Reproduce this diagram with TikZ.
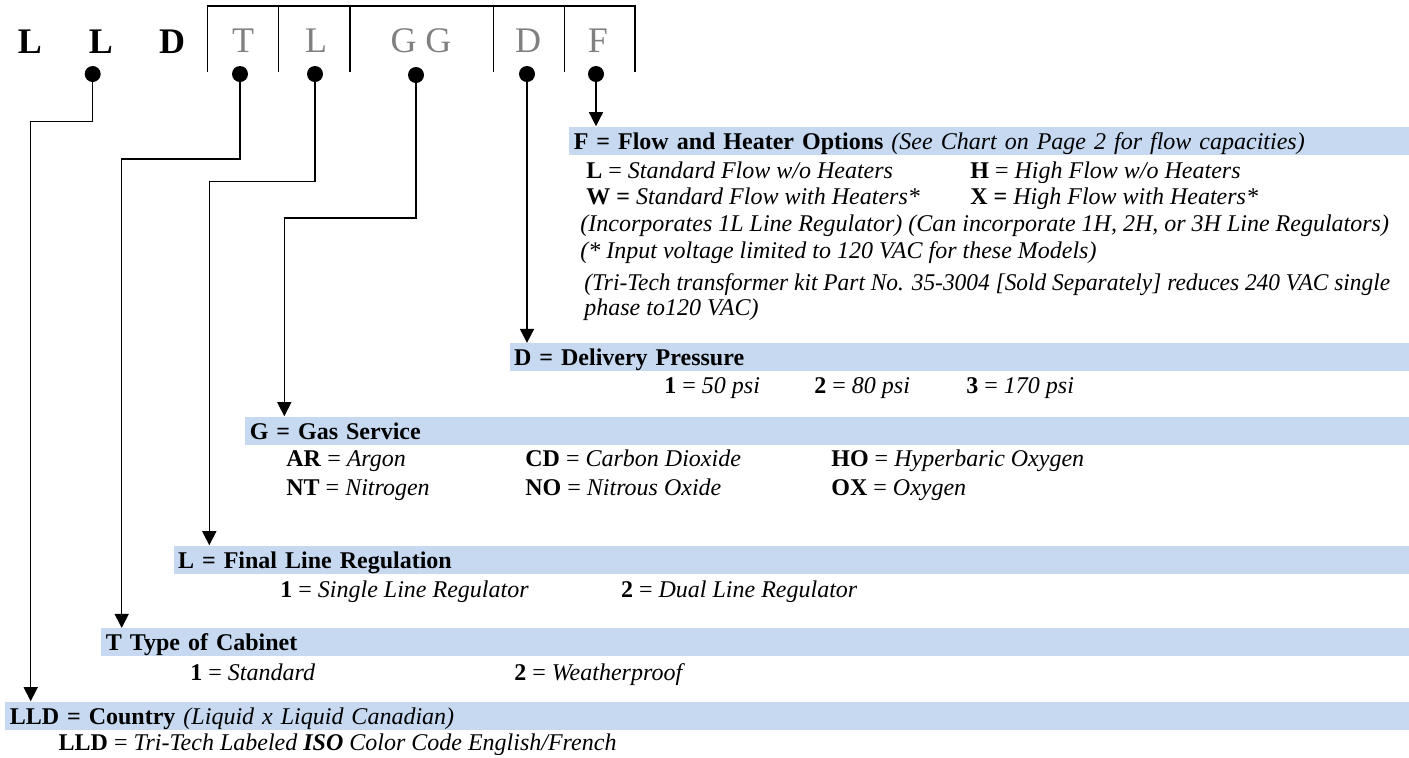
\documentclass[tikz,border=0pt]{standalone}
\usepackage{fontspec}
\setmainfont{Liberation Serif}
\usetikzlibrary{arrows.meta}
\definecolor{barblue}{RGB}{198,217,241}
\definecolor{codegray}{RGB}{128,128,128}
\newcommand{\bodysize}{\fontsize{12}{13.3}\selectfont}
\tikzstyle{node_head} = [anchor=base, inner sep=0pt, font=\fontsize{18}{20}\selectfont\bfseries]
\tikzstyle{node_code} = [anchor=base, inner sep=0pt, text=codegray, font=\fontsize{18}{20}\selectfont]
\tikzstyle{node_pin} = [circle, fill, inner sep=0pt, minimum size=8pt]
\tikzstyle{node_bar} = [anchor=south west, fill=barblue, inner xsep=2.2pt, inner ysep=0.8pt, text height=10.4pt, text depth=2pt, align=left, font=\bodysize\bfseries]
\tikzstyle{node_row} = [anchor=base west, inner sep=0pt, font=\bodysize]
\tikzstyle{edge_pin} = [line width=0.75pt, -{Triangle[length=7pt,width=7pt]}]
\tikzstyle{edge_frame} = [line width=0.75pt]

\begin{document}
\begin{tikzpicture}[x=0.5pt, y=-0.5pt]
			\useasboundingbox (0,0) rectangle (1409,757);
			\node (hL1) at (30,53) [node_head] {L};
			\node (hL2) at (101,53) [node_head] {L};
			\node (hD) at (172,53) [node_head] {D};
			\node (cT) at (243,52) [node_code] {T};
			\node (cL) at (316,52) [node_code] {L};
			\node (cG) at (421,52) [node_code] {G G};
			\node (cD) at (528,52) [node_code] {D};
			\node (cF) at (598,52) [node_code] {F};
			\draw[edge_frame] (207.7,72)--(207.7,6)--(635,6)--(635,72);
			\draw[edge_frame] (278.7,6)--(278.7,72) (350,6)--(350,72) (493.3,6)--(493.3,72) (564.3,6)--(564.3,72);
			\node (pinLL) at (92.7,74) [node_pin] {};
			\node (pinT) at (240,74) [node_pin] {};
			\node (pinL) at (315,74) [node_pin] {};
			\node (pinG) at (416,75) [node_pin] {};
			\node (pinD) at (527,74) [node_pin] {};
			\node (pinF) at (596,74) [node_pin] {};

			\node (barF) at (569,155) [node_bar, text width=415.6pt] {F = Flow and Heater Options {\mdseries\itshape (See Chart on Page 2 for flow capacities)}};
			\node (fL) at (586,178) [node_row] {\textbf{L} = \textit{Standard Flow w/o Heaters}};
			\node (fH) at (970,178) [node_row] {\textbf{H} = \textit{High Flow w/o Heaters}};
			\node (fW) at (586,204) [node_row] {\textbf{W =} \textit{Standard Flow with Heaters*}};
			\node (fX) at (970,204) [node_row] {\textbf{X =} \textit{High Flow with Heaters*}};
			\node (fInc) at (580,231.7) [node_row] {\textit{(Incorporates 1L Line Regulator) (Can incorporate 1H, 2H, or 3H Line Regulators)}};
			\node (fVolt) at (580,258) [node_row] {\textit{(* Input voltage limited to 120 VAC for these Models)}};
			\node (fKit1) at (584,290) [node_row] {\scalebox{0.975}[1]{\textit{(Tri-Tech transformer kit Part No. 35-3004 [Sold Separately] reduces 240 VAC single}}};
			\node (fKit2) at (584,315) [node_row] {\textit{phase to120 VAC)}};

			\node (barD) at (509.3,371.7) [node_bar, text width=445.4pt] {D = Delivery Pressure};
			\node (d1) at (664,393) [node_row] {\textbf{1} = \textit{50 psi}};
			\node (d2) at (814,393) [node_row] {\textbf{2} = \textit{80 psi}};
			\node (d3) at (966,393) [node_row] {\textbf{3} = \textit{170 psi}};

			\node (barG) at (245,445) [node_bar, text width=577.6pt] {G = Gas Service};
			\node (gAR) at (286,466.7) [node_row] {\textbf{AR} = \textit{Argon}};
			\node (gCD) at (525,466.7) [node_row] {\textbf{CD} = \textit{Carbon Dioxide}};
			\node (gHO) at (831,466.7) [node_row] {\textbf{HO} = \textit{Hyperbaric Oxygen}};
			\node (gNT) at (286,495) [node_row] {\textbf{NT} = \textit{Nitrogen}};
			\node (gNO) at (525,495) [node_row] {\textbf{NO} = \textit{Nitrous Oxide}};
			\node (gOX) at (831,495) [node_row] {\textbf{OX} = \textit{Oxygen}};

			\node (barL) at (173.3,574) [node_bar, text width=613.4pt] {L = Final Line Regulation};
			\node (l1) at (280,597) [node_row] {\textbf{1} = \textit{Single Line Regulator}};
			\node (l2) at (620.7,597) [node_row] {\textbf{2} = \textit{Dual Line Regulator}};

			\node (barT) at (101,656.7) [node_bar, text width=649.6pt] {T Type of Cabinet};
			\node (t1) at (190,680) [node_row] {\textbf{1} = \textit{Standard}};
			\node (t2) at (514,680) [node_row] {\textbf{2} = \textit{Weatherproof}};

			\node (barLLD) at (5,730) [node_bar, text width=697.6pt] {LLD = Country {\mdseries\itshape (Liquid x Liquid Canadian)}};
			\node (lld) at (58.3,750) [node_row] {\textbf{LLD} = \textit{Tri-Tech Labeled \textbf{ISO} Color Code English/French}};

			\coordinate (kLL) at (30.7,121.7);
			\coordinate (kT) at (121.7,159);
			\coordinate (kL) at (209.3,181.7);
			\coordinate (kG) at (284.3,218);
			\draw[edge_pin] (pinLL) |- (kLL) -- (kLL |- barLLD.north);
			\draw[edge_pin] (pinT) |- (kT) -- (kT |- barT.north);
			\draw[edge_pin] (pinL) |- (kL) -- (kL |- barL.north);
			\draw[edge_pin] (pinG) |- (kG) -- (kG |- barG.north);
			\draw[edge_pin] (pinD) -- (pinD |- barD.north);
			\draw[edge_pin] (pinF) -- (pinF |- barF.north);
		\end{tikzpicture}
\end{document}
